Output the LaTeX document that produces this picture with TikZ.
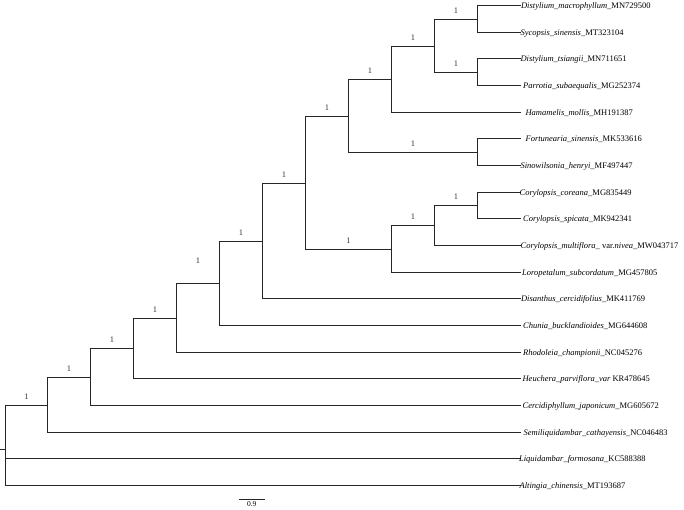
\documentclass[tikz,border=0pt]{standalone}
\usepackage{fontspec}
\setmainfont{Liberation Serif}
\begin{document}
\begin{tikzpicture}[x=1pt,y=-1pt,
  branch/.style={line width=1.3pt,draw=black!85,line cap=rect},
  leaflab/.style={anchor=base west,inner xsep=0.4pt,inner ysep=0pt,font=\fontsize{8.5}{9}\selectfont},
  boot/.style={anchor=south,inner sep=0pt,font=\fontsize{8.5}{9}\selectfont,text=black!80},
  sclab/.style={anchor=north,inner sep=0pt,font=\fontsize{7.5}{8}\selectfont}]
\useasboundingbox (0,0) rectangle (684,510);
% leaves
\foreach \i in {1,...,19}{
  \pgfmathsetmacro{\yy}{round(5+(\i-1)*26.667)+0.5}
  \coordinate (l\i) at (520,\yy);
}
% internal nodes
\coordinate (Nn) at (477.5,19.5);
\coordinate (No) at (477.5,72.5);
\coordinate (Np) at (434.5,46.5);
\coordinate (Nj) at (391.5,79.5);
\coordinate (Nk) at (477.5,152.5);
\coordinate (Nh) at (348.5,116.5);
\coordinate (Nm) at (477.5,205.5);
\coordinate (Nl) at (434.5,225.5);
\coordinate (Ni) at (391.5,249.5);
\coordinate (Ng) at (305.5,183.5);
\coordinate (Nf) at (262.5,241.5);
\coordinate (Ne) at (219.5,283.5);
\coordinate (Nd) at (176.5,318.5);
\coordinate (Nc) at (133.5,348.5);
\coordinate (Nb) at (90.5,377.5);
\coordinate (Na) at (47.5,405.5);
\coordinate (R) at (5.5,449.5);
\coordinate (Rs) at (0,449.5);
% branches
\draw[branch] (Rs) -- (R);
\draw[branch] (R |- Na) -- (R |- l19);
\draw[branch] (R |- Na) -- (Na);
\draw[branch] (R |- l18) -- (l18);
\draw[branch] (R |- l19) -- (l19);
\foreach \p/\a/\b in {Na/Nb/l17,Nb/Nc/l16,Nc/Nd/l15,Nd/Ne/l14,Ne/Nf/l13,Nf/Ng/l12,Ng/Nh/Ni,Nh/Nj/Nk,Nj/Np/l5,Np/Nn/No,Nn/l1/l2,No/l3/l4,Nk/l6/l7,Ni/Nl/l11,Nl/Nm/l10,Nm/l8/l9}{
  \draw[branch] (\p |- \a) -- (\p |- \b);
  \draw[branch] (\p |- \a) -- (\a);
  \draw[branch] (\p |- \b) -- (\b);
}
% bootstrap labels
\foreach \p/\c/\dy in {R/Na/6,Na/Nb/6,Nb/Nc/6,Nc/Nd/6,Nd/Ne/20,Ne/Nf/6,Nf/Ng/6,Ng/Nh/6,Ng/Ni/6,Nh/Nj/6,Nh/Nk/6,Nj/Np/6,Np/Nn/6,Np/No/6,Ni/Nl/6,Nl/Nm/6}{
  \path (\p |- \c) -- node[boot,yshift=\dy pt] (b\c) {1} (\c);
}
% leaf labels
\node[leaflab,yshift=-3pt,xshift=0.5pt] (t1) at (l1) {\textit{Distylium\_macrophyllum}\_MN729500};
\node[leaflab,yshift=-3pt] (t2) at (l2) {\textit{Sycopsis\_sinensis}\_MT323104};
\node[leaflab,yshift=-3pt] (t3) at (l3) {\textit{Distylium\_tsiangii}\_MN711651};
\node[leaflab,yshift=-3pt,xshift=2.5pt] (t4) at (l4) {\textit{Parrotia\_subaequalis}\_MG252374};
\node[leaflab,yshift=-3pt,xshift=5pt] (t5) at (l5) {\textit{Hamamelis\_mollis}\_MH191387};
\node[leaflab,yshift=-3pt,xshift=5pt] (t6) at (l6) {\textit{Fortunearia\_sinensis}\_MK533616};
\node[leaflab,yshift=-3pt] (t7) at (l7) {\textit{Sinowilsonia\_henryi}\_MF497447};
\node[leaflab,yshift=-3pt,xshift=-1pt] (t8) at (l8) {\textit{Corylopsis\_coreana}\_MG835449};
\node[leaflab,yshift=-3pt,xshift=2.5pt] (t9) at (l9) {\textit{Corylopsis\_spicata}\_MK942341};
\node[leaflab,yshift=-3pt] (t10) at (l10) {\textit{Corylopsis\_multiflora\_} var.\textit{nivea}\_MW043717};
\node[leaflab,yshift=-3pt,xshift=1.5pt] (t11) at (l11) {\textit{Loropetalum\_subcordatum}\_MG457805};
\node[leaflab,yshift=-3pt,xshift=0.5pt] (t12) at (l12) {\textit{Disanthus\_cercidifolius}\_MK411769};
\node[leaflab,yshift=-3pt,xshift=2.5pt] (t13) at (l13) {\textit{Chunia\_bucklandioides}\_MG644608};
\node[leaflab,yshift=-3pt,xshift=2.5pt] (t14) at (l14) {\textit{Rhodoleia\_championii}\_NC045276};
\node[leaflab,yshift=-3pt,xshift=2pt] (t15) at (l15) {\textit{Heuchera\_parviflora\_var} KR478645};
\node[leaflab,yshift=-3pt,xshift=2pt] (t16) at (l16) {\textit{Cercidiphyllum\_japonicum}\_MG605672};
\node[leaflab,yshift=-3pt,xshift=3pt] (t17) at (l17) {\textit{Semiliquidambar\_cathayensis}\_NC046483};
\node[leaflab,yshift=-3pt,xshift=-1.5pt] (t18) at (l18) {\textit{Liquidambar\_formosana}\_KC588388};
\node[leaflab,yshift=-3pt,xshift=-1pt] (t19) at (l19) {\textit{Altingia\_chinensis}\_MT193687};
% scale bar
\coordinate (s1) at (238.5,499.5);
\coordinate (s2) at (265,499.5);
\draw[branch,line cap=butt] (s1) -- (s2);
\node[sclab] (sl) at (251.7,501.5) {0.9};
\end{tikzpicture}
\end{document}
